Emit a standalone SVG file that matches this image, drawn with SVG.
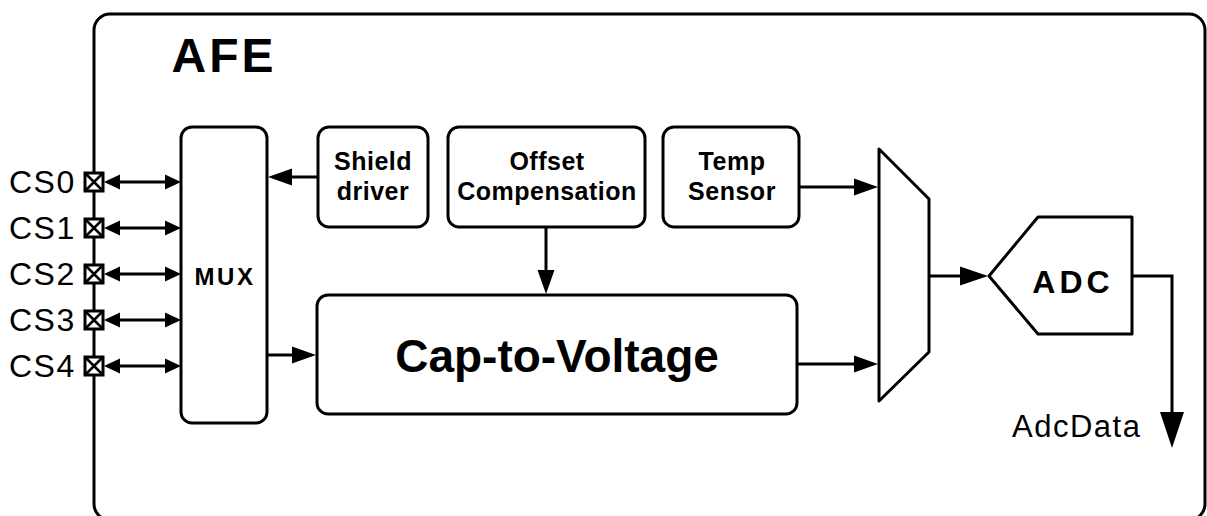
<svg xmlns="http://www.w3.org/2000/svg" width="1207" height="516" viewBox="0 0 1207 516">
  <style>
    .box { fill: #fff; stroke: #000; stroke-width: 3; }
    .wire { fill: none; stroke: #000; stroke-width: 3; }
    .lbl { font-family: "Liberation Sans", Arial, sans-serif; font-weight: bold; fill: #000; text-anchor: middle; }
    .sm { font-size: 25px; letter-spacing: 0.5px; }
    .pin { font-family: "Liberation Sans", Arial, sans-serif; fill: #000; font-size: 32px; letter-spacing: 1.5px; }
  </style>
  <defs>
    <marker id="ah" markerUnits="userSpaceOnUse" markerWidth="16" markerHeight="15" refX="0" refY="7.5" orient="auto-start-reverse" overflow="visible">
      <path d="M0,0 L16,7.5 L0,15 z" fill="#000"/>
    </marker>
    <marker id="ah2" markerUnits="userSpaceOnUse" markerWidth="24" markerHeight="17" refX="0" refY="8.5" orient="auto" overflow="visible">
      <path d="M0,0 L24,8.5 L0,17 z" fill="#000"/>
    </marker>
    <marker id="ah3" markerUnits="userSpaceOnUse" markerWidth="28" markerHeight="19" refX="0" refY="9.5" orient="auto" overflow="visible">
      <path d="M0,0 L28,9.5 L0,19 z" fill="#000"/>
    </marker>
    <marker id="big" markerUnits="userSpaceOnUse" markerWidth="36" markerHeight="24" refX="0" refY="12" orient="auto" overflow="visible">
      <path d="M0,0 L36,12 L0,24 z" fill="#000"/>
    </marker>
    <g id="pad">
      <rect x="-9" y="-9" width="18" height="18" fill="#fff" stroke="#000" stroke-width="3"/>
      <path d="M-8,-8 L8,8 M8,-8 L-8,8" stroke="#000" stroke-width="2.5"/>
    </g>
  </defs>

  <g id="afe">
    <rect class="box" x="94" y="14" width="1111" height="506" rx="16"/>
    <text class="lbl" x="224" y="72" font-size="48" letter-spacing="3">AFE</text>
  </g>

  <g id="connectors">
    <line class="wire" x1="120" y1="182" x2="165" y2="182" marker-start="url(#ah)" marker-end="url(#ah)"/>
    <line class="wire" x1="120" y1="228" x2="165" y2="228" marker-start="url(#ah)" marker-end="url(#ah)"/>
    <line class="wire" x1="120" y1="274" x2="165" y2="274" marker-start="url(#ah)" marker-end="url(#ah)"/>
    <line class="wire" x1="120" y1="320" x2="165" y2="320" marker-start="url(#ah)" marker-end="url(#ah)"/>
    <line class="wire" x1="120" y1="366" x2="165" y2="366" marker-start="url(#ah)" marker-end="url(#ah)"/>
    <line class="wire" x1="318" y1="177" x2="292" y2="177" marker-end="url(#ah2)"/>
    <line class="wire" x1="267" y1="355" x2="292" y2="355" marker-end="url(#ah2)"/>
    <line class="wire" x1="546" y1="227" x2="546" y2="270" marker-end="url(#ah2)"/>
    <line class="wire" x1="799" y1="187" x2="854" y2="187" marker-end="url(#ah2)"/>
    <line class="wire" x1="797" y1="364" x2="854" y2="364" marker-end="url(#ah2)"/>
    <line class="wire" x1="929" y1="276" x2="960" y2="276" marker-end="url(#ah3)"/>
    <polyline class="wire" points="1132,276 1172,276 1172,412" marker-end="url(#big)"/>
  </g>

  <g id="pins">
    <use href="#pad" x="94" y="182"/>
    <use href="#pad" x="94" y="228"/>
    <use href="#pad" x="94" y="274"/>
    <use href="#pad" x="94" y="320"/>
    <use href="#pad" x="94" y="366"/>
    <text class="pin" x="9" y="193">CS0</text>
    <text class="pin" x="9" y="239">CS1</text>
    <text class="pin" x="9" y="285">CS2</text>
    <text class="pin" x="9" y="331">CS3</text>
    <text class="pin" x="9" y="377">CS4</text>
  </g>

  <g id="mux">
    <rect class="box" x="181" y="127" width="86" height="296" rx="11"/>
    <text class="lbl" x="225" y="285" font-size="24" letter-spacing="2.5">MUX</text>
  </g>

  <g id="shield">
    <rect class="box" x="318" y="127" width="110" height="100" rx="11"/>
    <text class="lbl sm" x="373" y="170">Shield</text>
    <text class="lbl sm" x="373" y="200">driver</text>
  </g>

  <g id="offset">
    <rect class="box" x="448" y="127" width="197" height="100" rx="11"/>
    <text class="lbl sm" x="547" y="170">Offset</text>
    <text class="lbl sm" x="547" y="200">Compensation</text>
  </g>

  <g id="temp">
    <rect class="box" x="663" y="127" width="136" height="100" rx="11"/>
    <text class="lbl sm" x="732" y="170">Temp</text>
    <text class="lbl sm" x="732" y="200">Sensor</text>
  </g>

  <g id="c2v">
    <rect class="box" x="317" y="295" width="480" height="119" rx="11"/>
    <text class="lbl" x="557" y="372" font-size="46">Cap-to-Voltage</text>
  </g>

  <g id="amux">
    <polygon class="box" points="879,149 929,199 929,352 879,401" stroke-linejoin="round"/>
  </g>

  <g id="adc">
    <polygon class="box" points="989,276 1038,217 1132,217 1132,334 1038,334" stroke-linejoin="round"/>
    <text class="lbl" x="1073" y="293" font-size="32" letter-spacing="4">ADC</text>
  </g>

  <g id="adcdata">
    <text x="1012" y="437" font-family="Liberation Sans, Arial, sans-serif" font-size="31" letter-spacing="1.5" fill="#000">AdcData</text>
  </g>
</svg>
